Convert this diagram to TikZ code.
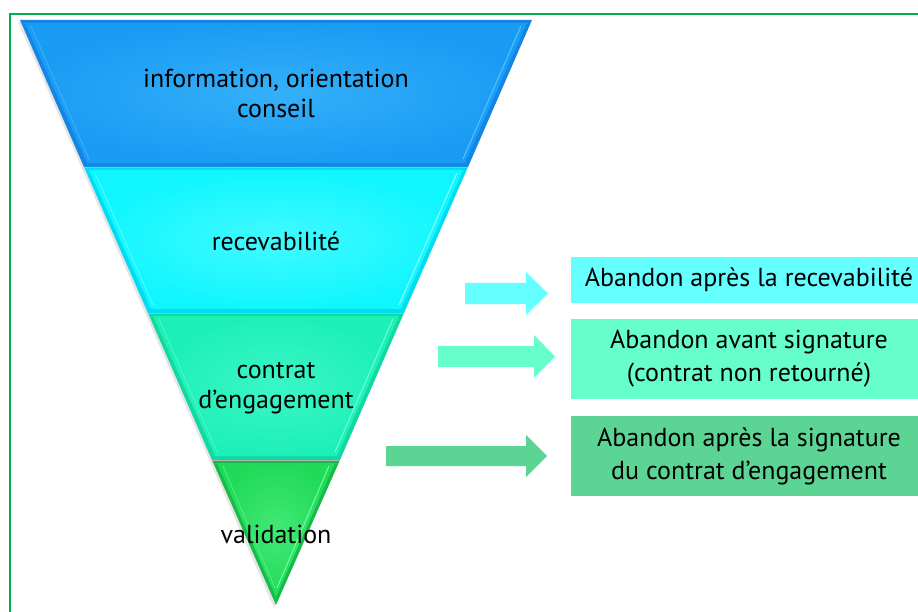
\documentclass[tikz,border=0pt]{standalone}
\usepackage{fontspec}
\setmainfont{PT Sans}
\definecolor{framegreen}{HTML}{00B050}
\definecolor{bAm}{HTML}{1A9CF4}
\definecolor{bAe}{HTML}{1484E6}
\definecolor{bAl}{HTML}{4FC4FF}
\definecolor{bBm}{HTML}{10F6FF}
\definecolor{bBe}{HTML}{00DCF0}
\definecolor{bBl}{HTML}{8CFFFF}
\definecolor{bCm}{HTML}{1CF0B6}
\definecolor{bCe}{HTML}{12D8A4}
\definecolor{bCl}{HTML}{6CFFE0}
\definecolor{bDm}{HTML}{22DA5A}
\definecolor{bDe}{HTML}{16BC48}
\definecolor{bDl}{HTML}{70FF9C}
\definecolor{cyanbox}{HTML}{66FFFF}
\definecolor{mintbox}{HTML}{66FFCC}
\definecolor{greenbox}{HTML}{5CD594}
\begin{document}
\begin{tikzpicture}[x=1pt,y=-1pt,
  bandtext/.style={font=\fontsize{26}{30}\selectfont, align=center, text=black, inner sep=0pt},
  boxnode/.style={font=\fontsize{26}{33}\selectfont, align=center, text=black, minimum width=356pt, inner sep=0pt}
]
\clip (0,0) rectangle (918,612);
\fill[white] (0,0) rectangle (918,612);
\draw[framegreen, line width=2pt] (10,640) -- (10,14) -- (940,14);

% faint drop shadow
\fill[black!10] (18,22) -- (530,22) -- (274,608) -- cycle;

% band 1
\fill[bAe] (20,20) -- (532,20) -- (468,167) -- (84,167) -- cycle;
\shade[inner color=bAl!50!bAm, outer color=bAm] (25,23) -- (527,23) -- (465,163) -- (87,163) -- cycle;
\draw[bAl, line width=1pt] (521,26) -- (463,159);
\draw[bAl!60!bAm, line width=0.8pt] (31,26) -- (89,159);
% band 2
\fill[bBe] (84,167) -- (468,167) -- (404,313) -- (148,313) -- cycle;
\shade[inner color=bBl!40!bBm, outer color=bBm] (89,170) -- (463,170) -- (401,309) -- (151,309) -- cycle;
\draw[bBl, line width=1pt] (457,173) -- (399,305);
\draw[bBl!60!bBm, line width=0.8pt] (95,173) -- (153,305);
% band 3
\fill[bCe] (148,313) -- (404,313) -- (340,460) -- (212,460) -- cycle;
\shade[inner color=bCl!40!bCm, outer color=bCm] (153,316) -- (399,316) -- (337,456) -- (215,456) -- cycle;
\draw[bCl, line width=1pt] (393,319) -- (335,452);
\draw[bCl!60!bCm, line width=0.8pt] (159,319) -- (217,452);
% band 4
\fill[bDe] (212,460) -- (340,460) -- (276,605) -- cycle;
\shade[inner color=bDl!40!bDm, outer color=bDm] (217,463) -- (335,463) -- (276,597) -- cycle;
\draw[bDl, line width=1pt] (329,466) -- (277,588);
\draw[bDl!60!bDm, line width=0.8pt] (223,466) -- (275,588);
% separators
\draw[black!30, line width=0.8pt] (84,167) -- (468,167);
\draw[black!30, line width=0.8pt] (148,313) -- (404,313);
\draw[black!30, line width=0.8pt] (212,460) -- (340,460);

% band texts
\node[bandtext] (info) at (276,93) {information, orientation\\conseil};
\node[bandtext] (rec) at (276,241) {recevabilité};
\node[bandtext] (contrat) at (276,388) {contrat\\d’engagement};
\node[bandtext] (valid) at (276,534) {validation};

% boxes
\node[boxnode, fill=cyanbox, minimum height=46pt] (boxA) at (749,280) {Abandon après la recevabilité};
\node[boxnode, fill=mintbox, minimum height=80pt] (boxB) at (749,359) {Abandon avant signature\\(contrat non retourné)};
\node[boxnode, fill=greenbox, minimum height=80pt] (boxC) at (749,456) {Abandon après la signature\\du contrat d’engagement};

% block arrows
\fill[cyanbox] (465,283) -- (526,283) -- (526,272) -- (548,293.5) -- (526,315) -- (526,304) -- (465,304) -- cycle;
\fill[mintbox] (438,346) -- (534,346) -- (534,335) -- (555,356.5) -- (534,378) -- (534,367) -- (438,367) -- cycle;
\fill[greenbox] (386,446) -- (526,446) -- (526,435) -- (547,456) -- (526,477) -- (526,466) -- (386,466) -- cycle;
\end{tikzpicture}
\end{document}
